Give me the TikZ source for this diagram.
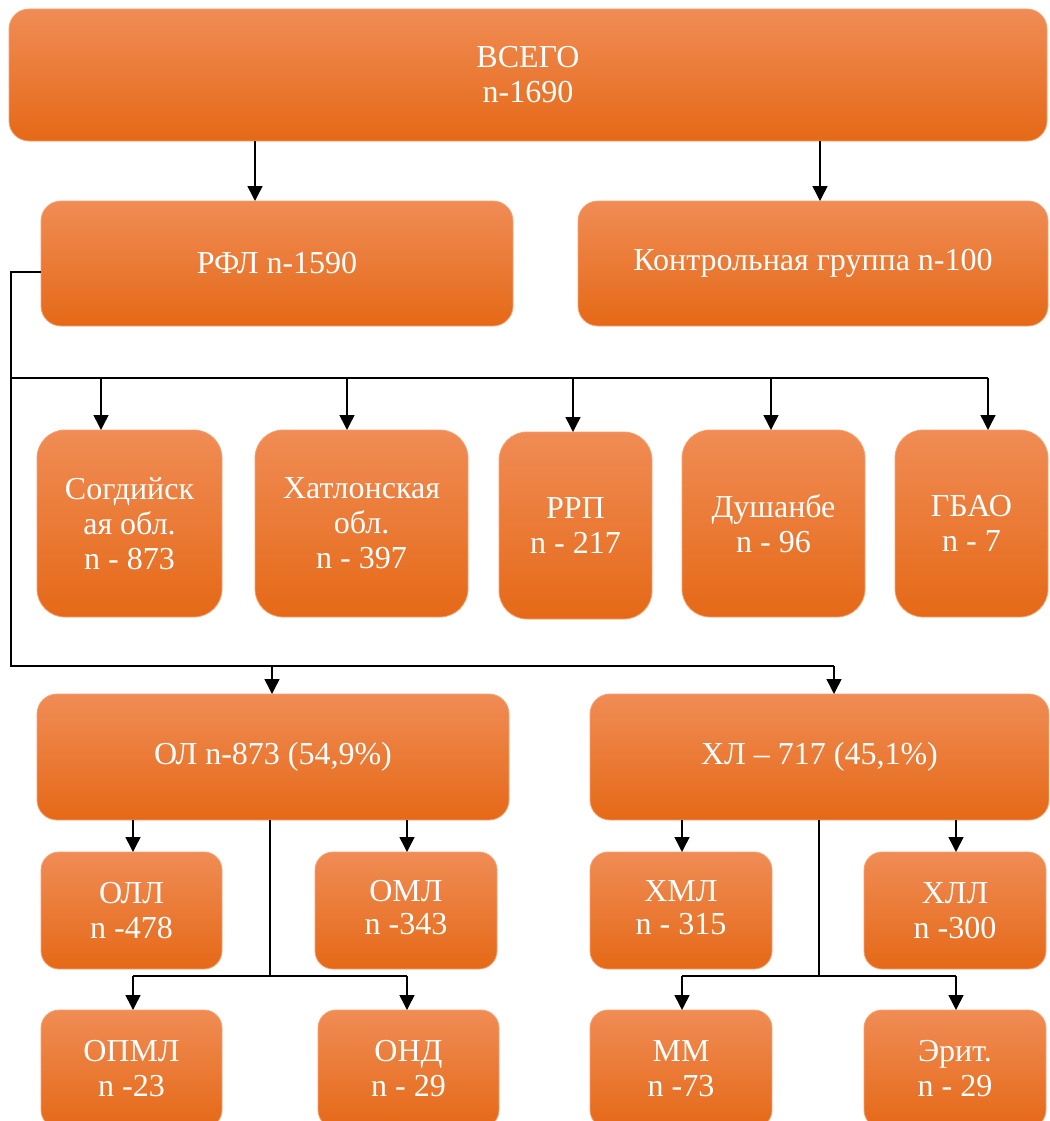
\documentclass[tikz,border=0pt]{standalone}
\usepackage{fontspec}
\setmainfont{Liberation Serif}
\usetikzlibrary{arrows.meta}
\definecolor{otop}{HTML}{F08C55}
\definecolor{omid}{HTML}{F47C2C}
\definecolor{obot}{HTML}{E56917}
\definecolor{oedge}{HTML}{F3A274}
\begin{document}
\begin{tikzpicture}[x=1pt,y=-1pt,
  bx/.style={rectangle,rounded corners=#1,inner sep=0pt,outer sep=0pt,
    top color=otop,middle color=omid,bottom color=obot,draw=oedge,line width=0.8pt,
    text=white,align=center,font=\fontsize{32}{35}\selectfont},
  ln/.style={line width=1.5pt,black},
  arr/.style={ln,-{Triangle[width=15pt,length=15pt]}}]
\useasboundingbox (0,0) rectangle (1049,1121);
\clip (0,0) rectangle (1049,1121);
% nodes
\node[bx=20pt,minimum width=1038pt,minimum height=132pt] (all) at (528,75) {ВСЕГО\\n-1690};
\node[bx=20pt,minimum width=472pt,minimum height=125pt] (rfl) at (277,263.5) {РФЛ n-1590};
\node[bx=20pt,minimum width=470pt,minimum height=125pt] (kg) at (813,263.5) {Контрольная группа n-100};
\node[bx=28pt,minimum width=185pt,minimum height=187pt] (sog) at (129.5,523.5) {Согдийск\\ая обл.\\n - 873};
\node[bx=28pt,minimum width=213pt,minimum height=187pt] (hat) at (361.5,523.5) {Хатлонская\\обл.\\n - 397};
\node[bx=28pt,minimum width=153pt,minimum height=187pt] (rrp) at (575.5,525.5) {РРП\\n - 217};
\node[bx=28pt,minimum width=183pt,minimum height=187pt] (dus) at (773.5,523.5) {Душанбе\\n - 96};
\node[bx=28pt,minimum width=153pt,minimum height=187pt] (gbao) at (971.5,523.5) {ГБАО\\n - 7};
\node[bx=20pt,minimum width=472pt,minimum height=126pt] (ol) at (273,757) {ОЛ n-873 (54,9\%)};
\node[bx=20pt,minimum width=459pt,minimum height=126pt] (hl) at (819.5,757) {ХЛ – 717 (45,1\%)};
\node[bx=18pt,minimum width=181pt,minimum height=117pt] (oll) at (131.5,910.5) {ОЛЛ\\n -478};
\node[bx=18pt,minimum width=182pt,minimum height=117pt] (oml) at (406,910.5) {\raisebox{5pt}{\begin{tabular}{@{}c@{}}ОМЛ\\[-2pt]n -343\end{tabular}}};
\node[bx=18pt,minimum width=181pt,minimum height=118pt] (opml) at (131.5,1069) {ОПМЛ\\n -23};
\node[bx=18pt,minimum width=181pt,minimum height=118pt] (ond) at (408.5,1069) {ОНД\\n - 29};
\node[bx=18pt,minimum width=182pt,minimum height=117pt] (hml) at (681,910.5) {\raisebox{5pt}{\begin{tabular}{@{}c@{}}ХМЛ\\[-2pt]n - 315\end{tabular}}};
\node[bx=18pt,minimum width=182pt,minimum height=117pt] (hll) at (955,910.5) {ХЛЛ\\n -300};
\node[bx=18pt,minimum width=182pt,minimum height=118pt] (mm) at (681,1069) {ММ\\n -73};
\node[bx=18pt,minimum width=182pt,minimum height=118pt] (erit) at (955,1069) {Эрит.\\n - 29};
% helper coordinates
\coordinate (cA) at (255,0); \coordinate (cB) at (820,0);
\coordinate (cL) at (11,0);
\coordinate (c1) at (101,0); \coordinate (c2) at (347,0); \coordinate (c3) at (573,0);
\coordinate (c4) at (771,0); \coordinate (c5) at (988,0);
\coordinate (cOL) at (272,0); \coordinate (cHL) at (834,0);
\coordinate (cOLa) at (133,0); \coordinate (cOLb) at (407,0); \coordinate (cOLm) at (270,0);
\coordinate (cHLa) at (682,0); \coordinate (cHLb) at (956,0); \coordinate (cHLm) at (819,0);
\coordinate (yB1) at (0,378); \coordinate (yB2) at (0,666); \coordinate (yB3) at (0,976);
\coordinate (rflw) at (41,272);
% connectors
\draw[arr] (all.south -| cA) -- (rfl.north -| cA);
\draw[arr] (all.south -| cB) -- (kg.north -| cB);
\draw[ln] (rflw) -- (rflw -| cL) -- (yB2 -| cL) -- (yB2 -| cHL);
\draw[ln] (yB1 -| cL) -- (yB1 -| c5);
\draw[arr] (yB1 -| c1) -- (sog.north -| c1);
\draw[arr] (yB1 -| c2) -- (hat.north -| c2);
\draw[arr] (yB1 -| c3) -- (rrp.north -| c3);
\draw[arr] (yB1 -| c4) -- (dus.north -| c4);
\draw[arr] (yB1 -| c5) -- (gbao.north -| c5);
\draw[arr] (yB2 -| cOL) -- (ol.north -| cOL);
\draw[arr] (yB2 -| cHL) -- (hl.north -| cHL);
\draw[arr] (ol.south -| cOLa) -- (oll.north -| cOLa);
\draw[arr] (ol.south -| cOLb) -- (oml.north -| cOLb);
\draw[ln] (ol.south -| cOLm) -- (yB3 -| cOLm);
\draw[ln] (yB3 -| cOLa) -- (yB3 -| cOLb);
\draw[arr] (yB3 -| cOLa) -- (opml.north -| cOLa);
\draw[arr] (yB3 -| cOLb) -- (ond.north -| cOLb);
\draw[arr] (hl.south -| cHLa) -- (hml.north -| cHLa);
\draw[arr] (hl.south -| cHLb) -- (hll.north -| cHLb);
\draw[ln] (hl.south -| cHLm) -- (yB3 -| cHLm);
\draw[ln] (yB3 -| cHLa) -- (yB3 -| cHLb);
\draw[arr] (yB3 -| cHLa) -- (mm.north -| cHLa);
\draw[arr] (yB3 -| cHLb) -- (erit.north -| cHLb);
\end{tikzpicture}
\end{document}
